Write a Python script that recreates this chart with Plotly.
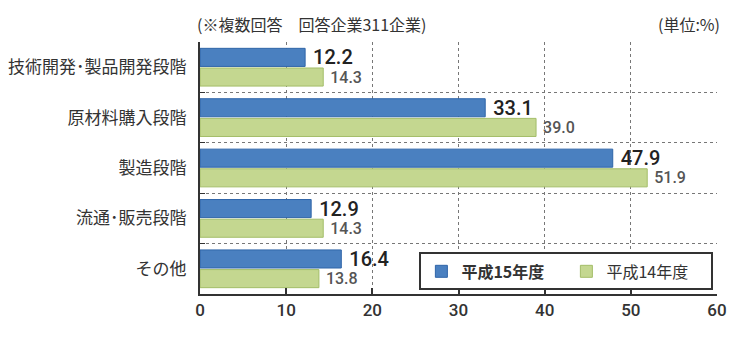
import plotly.graph_objects as go

categories = ["技術開発･製品開発段階", "原材料購入段階", "製造段階", "流通･販売段階", "その他"]
h15_values = [12.2, 33.1, 47.9, 12.9, 16.4]
h14_values = [14.3, 39.0, 51.9, 14.3, 13.8]
x_ticks = [0, 10, 20, 30, 40, 50, 60]

FONT = "Noto Sans CJK JP"

fig = go.Figure()
fig.add_trace(go.Bar(
    y=categories, x=h15_values, orientation="h",
    name="<b>平成15年度</b>",
    marker=dict(color="#4a80c0", line=dict(color="#2f65a8", width=1)),
    text=[f" {v:.1f}" for v in h15_values], textposition="outside",
    constraintext="none",
    textfont=dict(family="Roboto", size=20, color="#222222", weight=500),
    cliponaxis=False,
))
fig.add_trace(go.Bar(
    y=categories, x=h14_values, orientation="h",
    name="平成14年度",
    marker=dict(color="#c4d790", line=dict(color="#a3bd68", width=1)),
    text=[f" {v:.1f}" for v in h14_values], textposition="outside",
    constraintext="none",
    textfont=dict(family="Roboto", size=16, color="#555555", weight=500),
    cliponaxis=False,
))

fig.update_layout(
    width=750, height=338,
    margin=dict(l=200, r=33, t=42, b=44),
    paper_bgcolor="white", plot_bgcolor="white",
    barmode="group", bargap=0.22, bargroupgap=0.08,
    font=dict(family=FONT, color="#333333"),
    showlegend=True,
    legend=dict(
        orientation="h", x=0.993, y=0.165, xanchor="right", yanchor="top",
        bordercolor="#333333", borderwidth=2, bgcolor="white",
        font=dict(family=FONT, size=16, color="#333333"),
        entrywidth=100, itemwidth=30, tracegroupgap=0,
    ),
    annotations=[
        dict(text="(※複数回答　回答企業311企業)", xref="paper", yref="paper",
             x=-0.01, y=1.0, yshift=4, xanchor="left", yanchor="bottom", showarrow=False,
             font=dict(family=FONT, size=16, color="#333333")),
        dict(text="(単位:%)", xref="paper", yref="paper",
             x=1.0097, y=1.0, yshift=4, xanchor="right", yanchor="bottom", showarrow=False,
             font=dict(family=FONT, size=16, color="#333333")),
    ],
)

fig.update_xaxes(
    range=[0, 60], tickvals=x_ticks, ticktext=[str(t) for t in x_ticks],
    showgrid=True, gridcolor="#777777", griddash="dot", gridwidth=1,
    showline=True, linecolor="#333333", linewidth=2,
    ticks="inside", ticklen=6, tickcolor="#333333", tickwidth=2,
    tickfont=dict(family="Roboto", size=17, color="#333333", weight=500),
    zeroline=False, automargin=False,
)
fig.update_yaxes(
    type="category", autorange="reversed", tickson="boundaries",
    showgrid=True, gridcolor="#777777", griddash="dot", gridwidth=1,
    showline=True, linecolor="#333333", linewidth=2,
    ticks="inside", ticklen=5, tickcolor="#333333",
    tickfont=dict(family=FONT, size=17, color="#333333"),
    ticklabelstandoff=8, automargin=False,
)

fig.write_html("out.html")
